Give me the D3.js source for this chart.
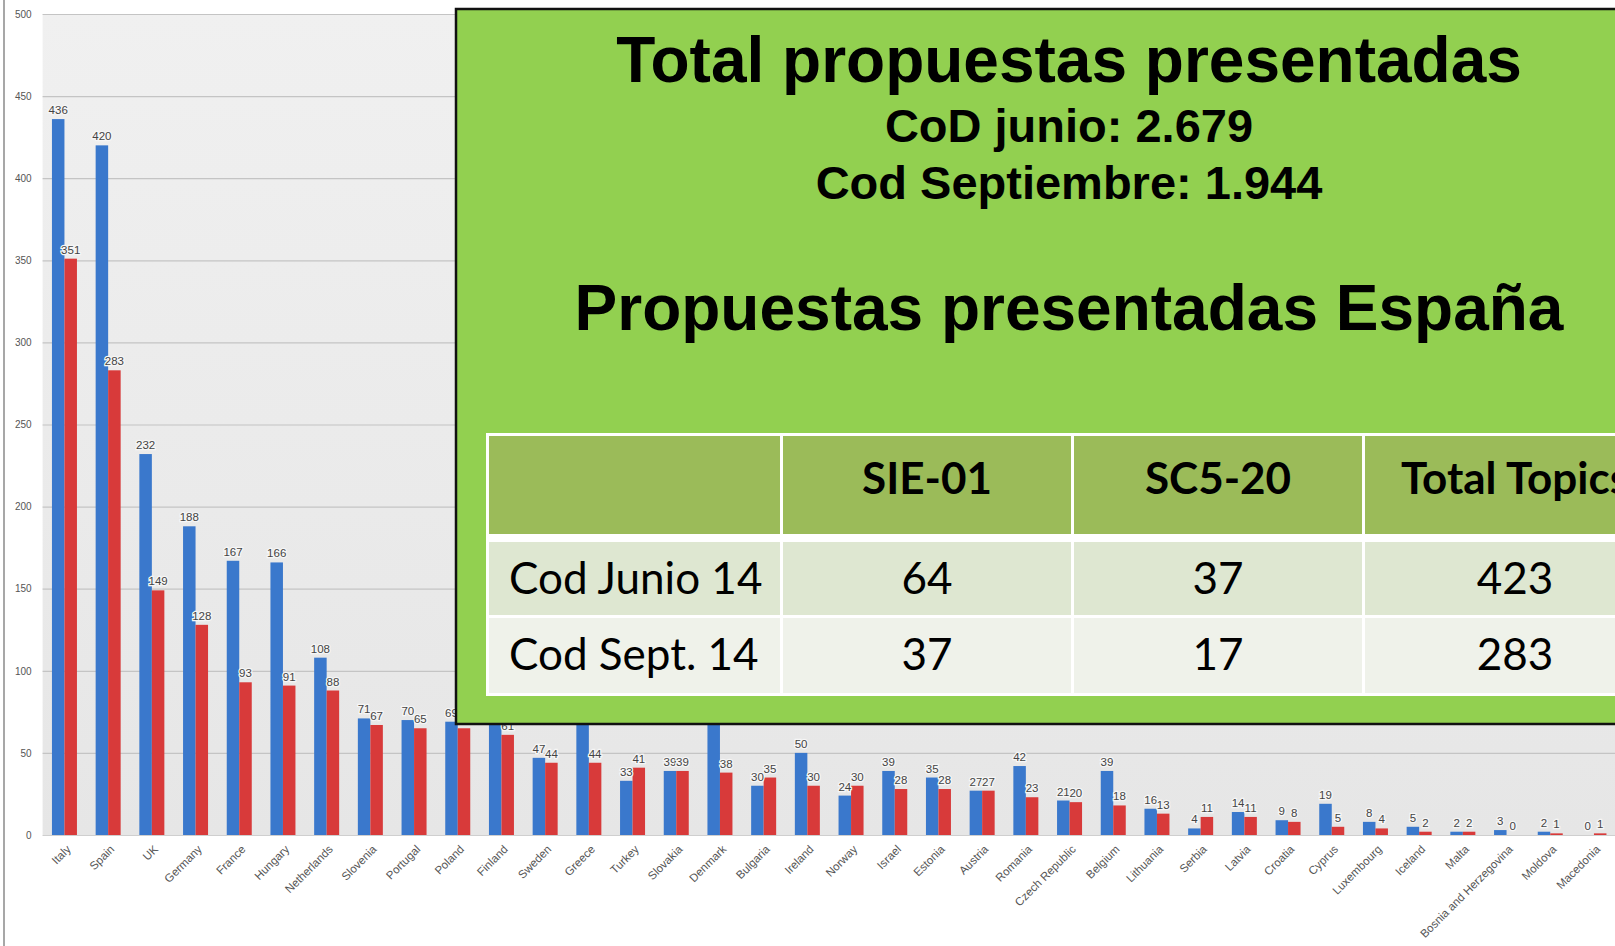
<!DOCTYPE html>
<html lang="es">
<head>
<meta charset="UTF-8">
<title>Propuestas presentadas</title>
<script src="https://d3js.org/d3.v7.min.js"></script>
<style>
    body { margin: 0; background: #fff; }
    svg { display: block; }
</style>
</head>
<body>
<svg id="chart" width="1615" height="946"></svg>
<script>
// paises y propuestas (azul = CoD junio, rojo = CoD septiembre)
const countries = ["Italy", "Spain", "UK", "Germany", "France", "Hungary", "Netherlands", "Slovenia",
    "Portugal", "Poland", "Finland", "Sweden", "Greece", "Turkey", "Slovakia", "Denmark", "Bulgaria",
    "Ireland", "Norway", "Israel", "Estonia", "Austria", "Romania", "Czech Republic", "Belgium",
    "Lithuania", "Serbia", "Latvia", "Croatia", "Cyprus", "Luxembourg", "Iceland", "Malta",
    "Bosnia and Herzegovina", "Moldova", "Macedonia"];
const junio = [436, 420, 232, 188, 167, 166, 108, 71, 70, 69, 77, 47, 74, 33, 39, 90, 30,
    50, 24, 39, 35, 27, 42, 21, 39, 16, 4, 14, 9, 19, 8, 5, 2, 3, 2, 0];
const septiembre = [351, 283, 149, 128, 93, 91, 88, 67, 65, 65, 61, 44, 44, 41, 39, 38, 35,
    30, 30, 28, 28, 27, 23, 20, 18, 13, 11, 11, 8, 5, 4, 2, 2, 0, 1, 1];
const yTicks = [0, 50, 100, 150, 200, 250, 300, 350, 400, 450, 500];

// textos del recuadro verde
const titleLines = ["Total propuestas presentadas", "CoD junio: 2.679", "Cod Septiembre: 1.944"];
const spainTitle = "Propuestas presentadas España";
const tableHeader = ["", "SIE-01", "SC5-20", "Total Topics"];
const tableRows = [
    ["Cod Junio 14", 64, 37, 423],
    ["Cod Sept. 14", 37, 17, 283]
];

const svg = d3.select("#chart");
const plot = { left: 42.6, top: 14, bottom: 835, right: 1615.8 };

const x0 = d3.scaleBand().domain(countries).range([plot.left, plot.right]);
const groupW = 25;
const x1 = d3.scaleBand().domain(["junio", "sept"])
    .range([x0.bandwidth() / 2 - groupW / 2, x0.bandwidth() / 2 + groupW / 2]);
const y = d3.scaleLinear().domain([0, 500]).range([plot.bottom, plot.top]);
const colors = { junio: "#3a78cc", sept: "#d83a3a" };

// fondo del area de grafico
const grad = svg.append("defs").append("linearGradient")
    .attr("id", "bg").attr("x1", 0).attr("y1", 0).attr("x2", 0).attr("y2", 1);
grad.append("stop").attr("offset", "0%").attr("stop-color", "#f0f0f0");
grad.append("stop").attr("offset", "100%").attr("stop-color", "#e6e6e6");
svg.append("rect")
    .attr("x", plot.left).attr("y", plot.top)
    .attr("width", plot.right - plot.left).attr("height", plot.bottom - plot.top)
    .attr("fill", "url(#bg)");

svg.append("line")
    .attr("x1", 4).attr("x2", 4).attr("y1", 0).attr("y2", 946)
    .attr("stroke", "#8a8a8a").attr("stroke-width", 1.5);

// eje y + rejilla
const yAxis = svg.append("g")
    .attr("transform", `translate(${plot.left},0)`)
    .call(d3.axisLeft(y).tickValues(yTicks).tickSize(-(plot.right - plot.left)).tickPadding(11));
yAxis.select(".domain").remove();
yAxis.selectAll(".tick line").attr("stroke", "#c4c4c4").attr("stroke-width", 1.2);
yAxis.selectAll(".tick text")
    .attr("font-family", "Liberation Sans, Arial, sans-serif")
    .attr("font-size", 10).attr("fill", "#555");

// barras
const groups = svg.append("g").selectAll("g")
    .data(countries.map((c, i) => ({ country: c, junio: junio[i], sept: septiembre[i] })))
    .join("g")
    .attr("transform", d => `translate(${x0(d.country)},0)`);

groups.selectAll("rect")
    .data(d => ["junio", "sept"].map(k => ({ key: k, value: d[k] })))
    .join("rect")
    .attr("x", d => x1(d.key))
    .attr("y", d => y(d.value))
    .attr("width", x1.bandwidth())
    .attr("height", d => y(0) - y(d.value))
    .attr("fill", d => colors[d.key]);

groups.selectAll("text")
    .data(d => ["junio", "sept"].map(k => ({ key: k, value: d[k] })))
    .join("text")
    .attr("x", d => x1(d.key) + x1.bandwidth() / 2)
    .attr("y", d => y(d.value) - 5)
    .attr("text-anchor", "middle")
    .attr("font-family", "Liberation Sans, Arial, sans-serif")
    .attr("font-size", 11.5)
    .attr("fill", "#444")
    .attr("stroke", "#f6f6f6").attr("stroke-width", 2.5).attr("paint-order", "stroke")
    .text(d => d.value);

// eje x
const xAxis = svg.append("g")
    .attr("transform", `translate(0,${plot.bottom})`)
    .call(d3.axisBottom(x0).tickSize(0).tickPadding(0));
xAxis.select(".domain").attr("stroke", "#cfcfcf");
xAxis.selectAll(".tick text")
    .attr("font-family", "Liberation Sans, Arial, sans-serif")
    .attr("font-size", 11.5).attr("fill", "#555")
    .attr("text-anchor", "end")
    .attr("dy", 0)
    .attr("transform", "translate(7,15) rotate(-45)");

// recuadro verde
const box = svg.append("g");
box.append("rect")
    .attr("x", 456).attr("y", 9).attr("width", 1200).attr("height", 715)
    .attr("fill", "#92d050").attr("stroke", "#111").attr("stroke-width", 2.5);

const cx = 1069;
const heading = box.append("g")
    .attr("font-family", "Liberation Sans, Arial, sans-serif")
    .attr("font-weight", "bold").attr("fill", "#000").attr("text-anchor", "middle");
heading.append("text").attr("x", cx).attr("y", 82).attr("font-size", 64).text(titleLines[0]);
heading.append("text").attr("x", cx).attr("y", 142).attr("font-size", 47).text(titleLines[1]);
heading.append("text").attr("x", cx).attr("y", 199).attr("font-size", 47).text(titleLines[2]);
heading.append("text").attr("x", cx).attr("y", 330).attr("font-size", 64).text(spainTitle);

// tabla
const colX = [489, 783, 1074, 1365];
const colW = [291, 288, 288, 300];
const rowY = [436, 542, 618];
const rowH = [98, 73, 75];
const rowFill = ["#9bbb59", "#dee7d1", "#eff2ea"];

box.append("rect")
    .attr("x", colX[0] - 3).attr("y", rowY[0] - 3)
    .attr("width", 1200).attr("height", rowY[2] + rowH[2] - rowY[0] + 6)
    .attr("fill", "#fff");

const allRows = [tableHeader].concat(tableRows);
allRows.forEach((row, r) => {
    row.forEach((cell, c) => {
        box.append("rect")
            .attr("x", colX[c]).attr("y", rowY[r])
            .attr("width", colW[c]).attr("height", rowH[r])
            .attr("fill", rowFill[r]);
        const t = box.append("text")
            .attr("font-family", "Lato, 'Open Sans', sans-serif")
            .attr("font-size", 44)
            .attr("fill", "#000")
            .text(cell);
        if (r === 0) {
            t.attr("font-weight", "bold").attr("text-anchor", "middle")
                .attr("x", colX[c] + colW[c] / 2).attr("y", 494);
        } else if (c === 0) {
            t.attr("x", colX[c] + 20).attr("y", rowY[r] + 52);
        } else {
            t.attr("text-anchor", "middle")
                .attr("x", colX[c] + colW[c] / 2).attr("y", rowY[r] + 52);
        }
    });
});
</script>
</body>
</html>
